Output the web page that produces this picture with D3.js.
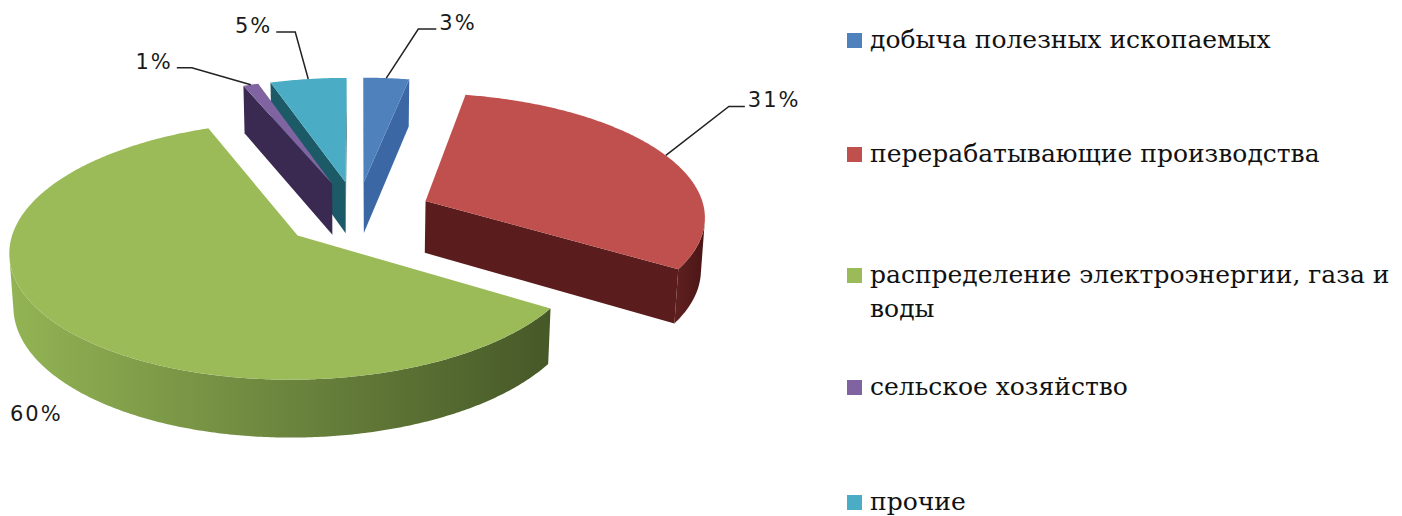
<!DOCTYPE html>
<meta charset="utf-8">
<body style="margin:0;background:#fff">
<script src="https://d3js.org/d3.v7.min.js"></script>
<script>
var categories = ["добыча полезных ископаемых", "перерабатывающие производства",
    "распределение электроэнергии, газа и воды", "сельское хозяйство", "прочие"];
var shares = [3, 31, 60, 1, 5];
var labels = ["3%", "31%", "60%", "1%", "5%"];

var topColors  = ["#4f81bd", "#c0504d", "#9bbb59", "#8064a2", "#4bacc6"];
var sideLight  = ["#3f6daa", "#5e1f1f", "#93b454", "#3e2c57", "#216473"];
var sideDark   = ["#345d93", "#4a1616", "#465828", "#33244a", "#1b5462"];
var wallColors = ["#3b68a4", "#5a1c1c", "#6f8c3d", "#3a2951", "#1d5a68"];

var svg = d3.select("body").append("svg")
    .attr("width", 1402)
    .attr("height", 516);
var defs = svg.append("defs");

// камера для псевдо-3D
var tilt = 26 * Math.PI / 180, dist = 8, focal = 2240,
    cx = 357, cy = 214, depth = 0.21, explode = 0.27;
var cam = [0, -dist * Math.cos(tilt), dist * Math.sin(tilt)];

function project(p) {
    var yc = p[1] * Math.sin(tilt) + p[2] * Math.cos(tilt);
    var d = dist + p[1] * Math.cos(tilt) - p[2] * Math.sin(tilt);
    return [cx + focal * p[0] / d, cy - focal * yc / d];
}

var arcs = d3.pie().sort(null).value(function(d) { return d; })(shares);

arcs.forEach(function(a, i) {
    var mid = (a.startAngle + a.endAngle) / 2;
    a.i = i;
    a.mid = mid;
    a.off = [explode * Math.sin(mid), explode * Math.cos(mid)];
    a.pt = function(t, r, z) {
        return [a.off[0] + r * Math.sin(t), a.off[1] + r * Math.cos(t), z];
    };
    var c = a.pt(mid, 0.5, 0);
    a.depthKey = dist + c[1] * Math.cos(tilt);
});

function visible(p, n) {
    return (cam[0] - p[0]) * n[0] + (cam[1] - p[1]) * n[1] + (cam[2] - p[2]) * n[2] > 0;
}

var line = d3.line();
var pieG = svg.append("g");

arcs.slice().sort(function(a, b) { return b.depthKey - a.depthKey; }).forEach(function(a) {
    var g = pieG.append("g");
    var i = a.i, steps = Math.max(4, Math.ceil((a.endAngle - a.startAngle) / 0.01));
    var ts = d3.range(steps + 1).map(function(k) { return a.startAngle + (a.endAngle - a.startAngle) * k / steps; });

    // радиальные стенки
    [[a.startAngle, [-Math.cos(a.startAngle), Math.sin(a.startAngle), 0]],
     [a.endAngle, [Math.cos(a.endAngle), -Math.sin(a.endAngle), 0]]].forEach(function(w) {
        var p0 = a.pt(w[0], 0, 0);
        if (!visible(p0, w[1])) return;
        var quad = [a.pt(w[0], 0, 0), a.pt(w[0], 1, 0), a.pt(w[0], 1, -depth), a.pt(w[0], 0, -depth)].map(project);
        g.append("path").attr("d", line(quad) + "Z").attr("fill", wallColors[i]);
    });

    // внешняя стенка, только видимые участки
    var runs = [], cur = null;
    ts.forEach(function(t) {
        var vis = visible(a.pt(t, 1, 0), [Math.sin(t), Math.cos(t), 0]);
        if (vis) { if (!cur) { cur = []; runs.push(cur); } cur.push(t); }
        else cur = null;
    });
    runs.forEach(function(run, k) {
        if (run.length < 2) return;
        var top = run.map(function(t) { return project(a.pt(t, 1, 0)); });
        var bot = run.slice().reverse().map(function(t) { return project(a.pt(t, 1, -depth)); });
        var xs = top.map(function(p) { return p[0]; });
        var id = "side" + i + "_" + k;
        var grad = defs.append("linearGradient").attr("id", id)
            .attr("gradientUnits", "userSpaceOnUse")
            .attr("x1", d3.min(xs)).attr("x2", d3.max(xs)).attr("y1", 0).attr("y2", 0);
        grad.append("stop").attr("offset", 0).attr("stop-color", sideLight[i]);
        grad.append("stop").attr("offset", 1).attr("stop-color", sideDark[i]);
        g.append("path").attr("d", line(top.concat(bot)) + "Z").attr("fill", "url(#" + id + ")");
    });

    // верхняя грань
    var face = [project(a.pt(a.mid, 0, 0))].concat(ts.map(function(t) { return project(a.pt(t, 1, 0)); }));
    g.append("path").attr("d", line(face) + "Z").attr("fill", topColors[i]);
});

// подписи данных с выносками
var leader = [[32, -49, 18], [63, -49, 16], null, [-59, -17, -15], [-13, -47, -19]];
var labelG = svg.append("g").attr("font-family", "DejaVu Sans").attr("font-size", 21)
    .attr("letter-spacing", 2).attr("fill", "#1a1a1a");

arcs.forEach(function(a, i) {
    var anchor = project(a.pt(a.mid, 1, 0));
    var L = leader[i];
    if (!L) {
        labelG.append("text").attr("x", 10).attr("y", anchor[1] + 98).text(labels[i]);
        return;
    }
    var elbow = [anchor[0] + L[0], anchor[1] + L[1]];
    var end = [elbow[0] + L[2], elbow[1]];
    labelG.append("path").attr("d", line([anchor, elbow, end]))
        .attr("fill", "none").attr("stroke", "#222").attr("stroke-width", 1.5);
    labelG.append("text")
        .attr("x", end[0] + (L[2] > 0 ? 3 : -4))
        .attr("y", end[1] + 1)
        .attr("text-anchor", L[2] > 0 ? "start" : "end")
        .text(labels[i]);
});

// легенда
var legendBase = [48, 162, 283, 395, 510];
var legend = svg.append("g").attr("font-family", "DejaVu Serif").attr("font-size", 25).attr("fill", "#111");
categories.forEach(function(name, i) {
    legend.append("rect").attr("x", 847).attr("y", legendBase[i] - 15)
        .attr("width", 15).attr("height", 15).attr("fill", topColors[i]);
    var t = legend.append("text").attr("x", 870).attr("y", legendBase[i]);
    var words = name.split(" "), ln = [];
    var ts = t.append("tspan").attr("x", 870);
    words.forEach(function(w) {
        ln.push(w);
        ts.text(ln.join(" "));
        if (ts.node().getComputedTextLength() > 530 && ln.length > 1) {
            ln.pop();
            ts.text(ln.join(" "));
            ln = [w];
            ts = t.append("tspan").attr("x", 870).attr("dy", 34).text(w);
        }
    });
});
</script>
</body>
